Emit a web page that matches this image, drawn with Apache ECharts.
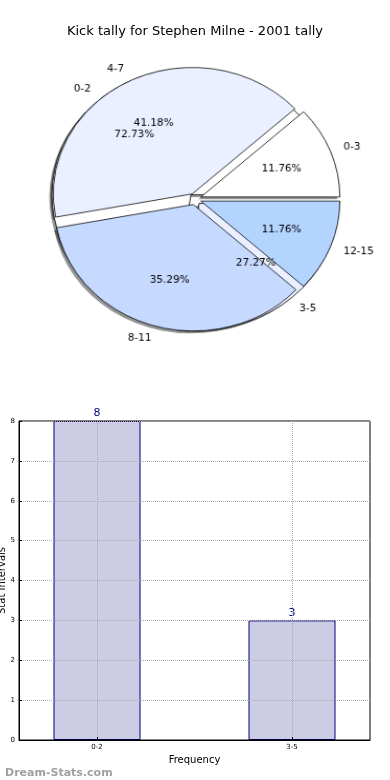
<!DOCTYPE html>
<html><head><meta charset="utf-8">
<script src="https://cdn.jsdelivr.net/npm/echarts@6/dist/echarts.min.js"></script>
<style>
html,body{margin:0;padding:0;background:#fff}
#wrap{position:relative;width:390px;height:780px}
#c{position:absolute;left:0;top:0;width:390px;height:780px}
#p{position:absolute;left:0;top:0;width:390px;height:400px;transform-origin:195px 199px;transform:scale(1.045,0.951)}
</style>
</head><body><div id="wrap"><div id="c"></div><div id="p"></div></div>
<script>
// ---- data ----
const titleText = 'Kick tally for Stephen Milne - 2001 tally';
const innerNames = ['0-2', '3-5'];
const innerValues = [8, 3];
const innerColors = ['#ffffff', '#eaf0ff'];
const outerNames = ['0-3', '4-7', '8-11', '12-15'];
const outerValues = [2, 7, 6, 2];
const outerColors = ['#ffffff', '#eaf0ff', '#c6d9ff', '#b3d4ff'];
const barCategories = ['0-2', '3-5'];
const barValues = [8, 3];
const barPositions = [0, 1];

// ---- layout ----
const FONT = 'DejaVu Sans';
const CX = 195, CY = 199, R = 133, EXPLODE = 6, SHADOW_DX = -2.5, SHADOW_DY = 2.5;

function pctFormatter(values) {
  const total = values.reduce((a, b) => a + b, 0);
  return p => (p.value / total * 100).toFixed(2) + '%';
}
const edge = { borderColor: '#000', borderWidth: 0.8 };
const clear = { color: 'rgba(0,0,0,0)', borderWidth: 0 };

function basePie(names, values, z, center) {
  return {
    type: 'pie', center: center || [CX, CY], radius: [0, R], startAngle: 0, clockwise: false,
    z: z, silent: true, animation: false, avoidLabelOverlap: false,
    selectedMode: 'multiple', selectedOffset: EXPLODE,
    emphasis: { disabled: true },
    label: { show: false }, labelLine: { show: false },
    data: names.map((n, i) => ({ name: n, value: values[i], selected: true }))
  };
}
function shadowPie(names, values, z) {
  const s = basePie(names, values, z, [CX + SHADOW_DX, CY + SHADOW_DY]);
  s.data.forEach(d => {
    d.itemStyle = { color: 'rgba(0,0,0,0.42)', borderWidth: 0 };
    d.select = { itemStyle: { color: 'rgba(0,0,0,0.42)', borderWidth: 0 } };
  });
  return s;
}
function drawPie(names, values, colors, z) {
  const s = basePie(names, values, z);
  s.data.forEach((d, i) => {
    d.itemStyle = Object.assign({ color: colors[i] }, edge);
    d.select = { itemStyle: Object.assign({ color: colors[i] }, edge) };
  });
  return s;
}
function pctPie(names, values, z) {
  const s = basePie(names, values, z);
  s.radius = [0, R * 1.2];
  s.label = { show: true, position: 'inside', color: '#000', fontFamily: FONT, fontSize: 10,
    formatter: pctFormatter(values) };
  s.data.forEach(d => { d.itemStyle = clear; d.select = { itemStyle: clear }; });
  return s;
}
function namePie(names, values, z) {
  const s = basePie(names, values, z);
  s.label = { show: true, position: 'outside', color: '#000', fontFamily: FONT, fontSize: 10,
    formatter: '{b}', distanceToLabelLine: 0, alignTo: 'none' };
  s.labelLine = { show: false, length: R * 0.1, length2: 0 };
  s.data.forEach(d => { d.itemStyle = clear; d.select = { itemStyle: clear }; });
  return s;
}

const pie = echarts.init(document.getElementById('p'), null, { renderer: 'canvas' });
pie.setOption({
  animation: false,
  backgroundColor: 'rgba(0,0,0,0)',
  series: [
    shadowPie(innerNames, innerValues, 0),
    shadowPie(outerNames, outerValues, 0),
    drawPie(innerNames, innerValues, innerColors, 1),
    drawPie(outerNames, outerValues, outerColors, 2),
    pctPie(innerNames, innerValues, 4),
    pctPie(outerNames, outerValues, 4),
    namePie(innerNames, innerValues, 4),
    namePie(outerNames, outerValues, 4)
  ]
});

const chart = echarts.init(document.getElementById('c'), null, { renderer: 'canvas' });
chart.setOption({
  animation: false,
  backgroundColor: '#fff',
  title: [
    { text: titleText, left: 'center', top: 20, textStyle: { fontFamily: FONT, fontSize: 13, fontWeight: 'normal', color: '#000' } },
    { text: 'Dream-Stats.com', left: 0, top: 763, textStyle: { fontFamily: FONT, fontSize: 11, fontWeight: 'bold', color: '#a0a0a0' } }
  ],
  grid: { left: 19, right: 20, top: 421, bottom: 40, containLabel: false, outerBoundsMode: 'none',
    show: true, borderColor: '#000', borderWidth: 1, z: 6 },
  xAxis: {
    type: 'value', min: -0.4, max: 1.4, z: 6,
    name: 'Frequency', nameLocation: 'middle', nameGap: 15, nameMoveOverlap: false,
    nameTextStyle: { fontFamily: FONT, fontSize: 10, color: '#000' },
    axisLine: { show: true, onZero: false, lineStyle: { color: '#000' } },
    axisTick: { show: true, inside: true, length: 3, customValues: barPositions, lineStyle: { color: '#000' } },
    axisLabel: { customValues: barPositions, fontFamily: FONT, fontSize: 7, color: '#000', margin: 4,
      formatter: v => barCategories[barPositions.indexOf(v)] },
    splitLine: { show: true, lineStyle: { color: '#aaaaaa', type: 'dotted', width: 1 } }
  },
  yAxis: {
    type: 'value', min: 0, max: 8, interval: 1, z: 6,
    name: 'Stat Intervals', nameLocation: 'middle', nameGap: 12, nameRotate: 90, nameMoveOverlap: false,
    nameTextStyle: { fontFamily: FONT, fontSize: 10, color: '#000' },
    axisLine: { show: true, onZero: false, lineStyle: { color: '#000' } },
    axisTick: { show: true, inside: true, length: 3, lineStyle: { color: '#000' } },
    axisLabel: { fontFamily: FONT, fontSize: 7, color: '#000', margin: 4 },
    splitLine: { show: true, lineStyle: { color: '#aaaaaa', type: 'dotted', width: 1 } }
  },
  series: [
    {
      type: 'bar', z: 2, barWidth: 87,
      data: barPositions.map((x, i) => [x, barValues[i]]),
      itemStyle: { color: '#ccccE4', borderColor: '#000080', borderWidth: 1 },
      label: { show: true, position: 'top', distance: 2, color: '#000080', fontFamily: FONT, fontSize: 11,
        formatter: p => String(p.value[1]) }
    }
  ]
});
</script></body></html>
